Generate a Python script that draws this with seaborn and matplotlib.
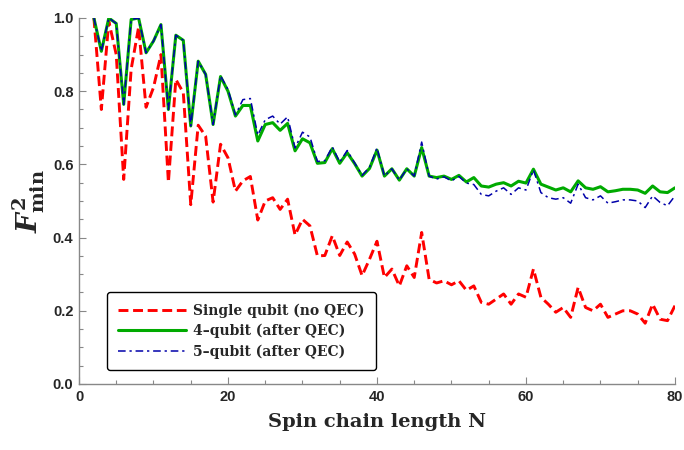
import numpy as np
import pandas as pd
import matplotlib
matplotlib.use("Agg")
import matplotlib.pyplot as plt
import seaborn as sns
from matplotlib.ticker import MultipleLocator

# chain lengths
N = list(range(2, 81))

# single qubit, no error correction
single = [1.000, 0.750, 0.991, 0.900, 0.559, 0.860, 0.975, 0.756, 0.810, 0.900,
          0.551, 0.832, 0.796, 0.490, 0.707, 0.677, 0.497, 0.655, 0.618, 0.527,
          0.555, 0.567, 0.448, 0.500, 0.509, 0.477, 0.505, 0.407, 0.450, 0.432,
          0.350, 0.351, 0.405, 0.351, 0.388, 0.355, 0.296, 0.341, 0.390, 0.291,
          0.314, 0.268, 0.323, 0.291, 0.414, 0.286, 0.276, 0.282, 0.271, 0.282,
          0.256, 0.268, 0.223, 0.218, 0.232, 0.246, 0.218, 0.246, 0.237, 0.314,
          0.237, 0.218, 0.196, 0.209, 0.182, 0.264, 0.209, 0.200, 0.218, 0.182,
          0.191, 0.200, 0.200, 0.191, 0.166, 0.218, 0.177, 0.173, 0.214]

# 4-qubit code after QEC
four_qubit = [1.000, 0.909, 1.000, 0.985, 0.764, 0.996, 1.000, 0.905, 0.937, 0.982,
              0.750, 0.953, 0.939, 0.705, 0.882, 0.846, 0.709, 0.840, 0.800, 0.732,
              0.761, 0.761, 0.664, 0.709, 0.714, 0.693, 0.712, 0.637, 0.670, 0.659,
              0.603, 0.605, 0.643, 0.603, 0.632, 0.602, 0.568, 0.589, 0.639, 0.568,
              0.588, 0.557, 0.588, 0.568, 0.646, 0.568, 0.564, 0.568, 0.559, 0.570,
              0.552, 0.564, 0.541, 0.538, 0.546, 0.550, 0.541, 0.554, 0.549, 0.587,
              0.546, 0.538, 0.530, 0.536, 0.525, 0.555, 0.536, 0.532, 0.539, 0.525,
              0.528, 0.532, 0.532, 0.530, 0.521, 0.541, 0.525, 0.523, 0.536]

# 5-qubit code after QEC
five_qubit = [1.000, 0.909, 1.000, 0.985, 0.764, 0.996, 1.000, 0.905, 0.937, 0.982,
              0.750, 0.953, 0.939, 0.705, 0.882, 0.846, 0.709, 0.842, 0.805, 0.735,
              0.777, 0.780, 0.680, 0.722, 0.732, 0.710, 0.730, 0.645, 0.688, 0.675,
              0.608, 0.610, 0.648, 0.606, 0.638, 0.604, 0.570, 0.592, 0.645, 0.568,
              0.588, 0.557, 0.588, 0.568, 0.661, 0.568, 0.560, 0.566, 0.555, 0.567,
              0.549, 0.545, 0.518, 0.514, 0.527, 0.536, 0.518, 0.536, 0.530, 0.585,
              0.523, 0.509, 0.505, 0.509, 0.494, 0.546, 0.509, 0.503, 0.514, 0.494,
              0.498, 0.503, 0.503, 0.500, 0.482, 0.514, 0.496, 0.487, 0.514]

sns.set_style("ticks")
plt.rcParams["font.family"] = ["Liberation Sans", "DejaVu Sans"]
plt.rcParams["mathtext.fontset"] = "custom"
plt.rcParams["mathtext.rm"] = "DejaVu Serif:bold"
plt.rcParams["mathtext.it"] = "DejaVu Serif:italic:bold"
plt.rcParams["mathtext.bf"] = "DejaVu Serif:bold"

fig = plt.figure(figsize=(6.84, 4.5), dpi=100)
ax = fig.add_axes([0.1155, 0.1467, 0.8713, 0.8133])

sns.lineplot(x=N, y=single, ax=ax, color="#ff0000", linewidth=2.1,
             label="Single qubit (no QEC)")
ax.lines[-1].set_dashes((3.4, 1.6))
sns.lineplot(x=N, y=four_qubit, ax=ax, color="#00aa00", linewidth=2.2,
             label="4\u2013qubit (after QEC)")
sns.lineplot(x=N, y=five_qubit, ax=ax, color="#0000aa", linewidth=1.1,
             label="5\u2013qubit (after QEC)")
ax.lines[-1].set_dashes((5, 2.5, 1.5, 2.5))

ax.set_xlim(0, 80)
ax.set_ylim(0, 1.0)
ax.xaxis.set_major_locator(MultipleLocator(20))
ax.xaxis.set_minor_locator(MultipleLocator(5))
ax.yaxis.set_major_locator(MultipleLocator(0.2))
ax.yaxis.set_minor_locator(MultipleLocator(0.05))
ax.set_yticklabels([f"{v:.1f}" for v in ax.get_yticks()])

for side in ["top", "right"]:
    ax.spines[side].set_visible(False)
for side in ["left", "bottom"]:
    ax.spines[side].set_color("#888888")
    ax.spines[side].set_linewidth(1.0)
ax.tick_params(which="both", direction="in", color="#888888", width=0.8)
ax.tick_params(which="major", length=5, labelsize=10.5, pad=4)
ax.tick_params(which="minor", length=3)
for lab in ax.get_xticklabels() + ax.get_yticklabels():
    lab.set_fontweight("bold")

ax.set_xlabel("Spin chain length N", family="DejaVu Serif", fontweight="bold",
              fontsize=14, labelpad=7)
ax.set_ylabel(r"$F^{2}_{\mathrm{min}}$", fontsize=20, labelpad=4)

leg = ax.legend(loc="lower left", bbox_to_anchor=(0.047, 0.038), borderaxespad=0,
                frameon=True, fancybox=True, handlelength=4.9, handletextpad=0.5,
                labelspacing=0.45, borderpad=0.8,
                prop={"family": "DejaVu Serif", "weight": "bold", "size": 10.0})
leg.get_frame().set_edgecolor("black")
leg.get_frame().set_linewidth(1.0)
leg.get_frame().set_alpha(1)

fig.savefig("out.png", dpi=100)
